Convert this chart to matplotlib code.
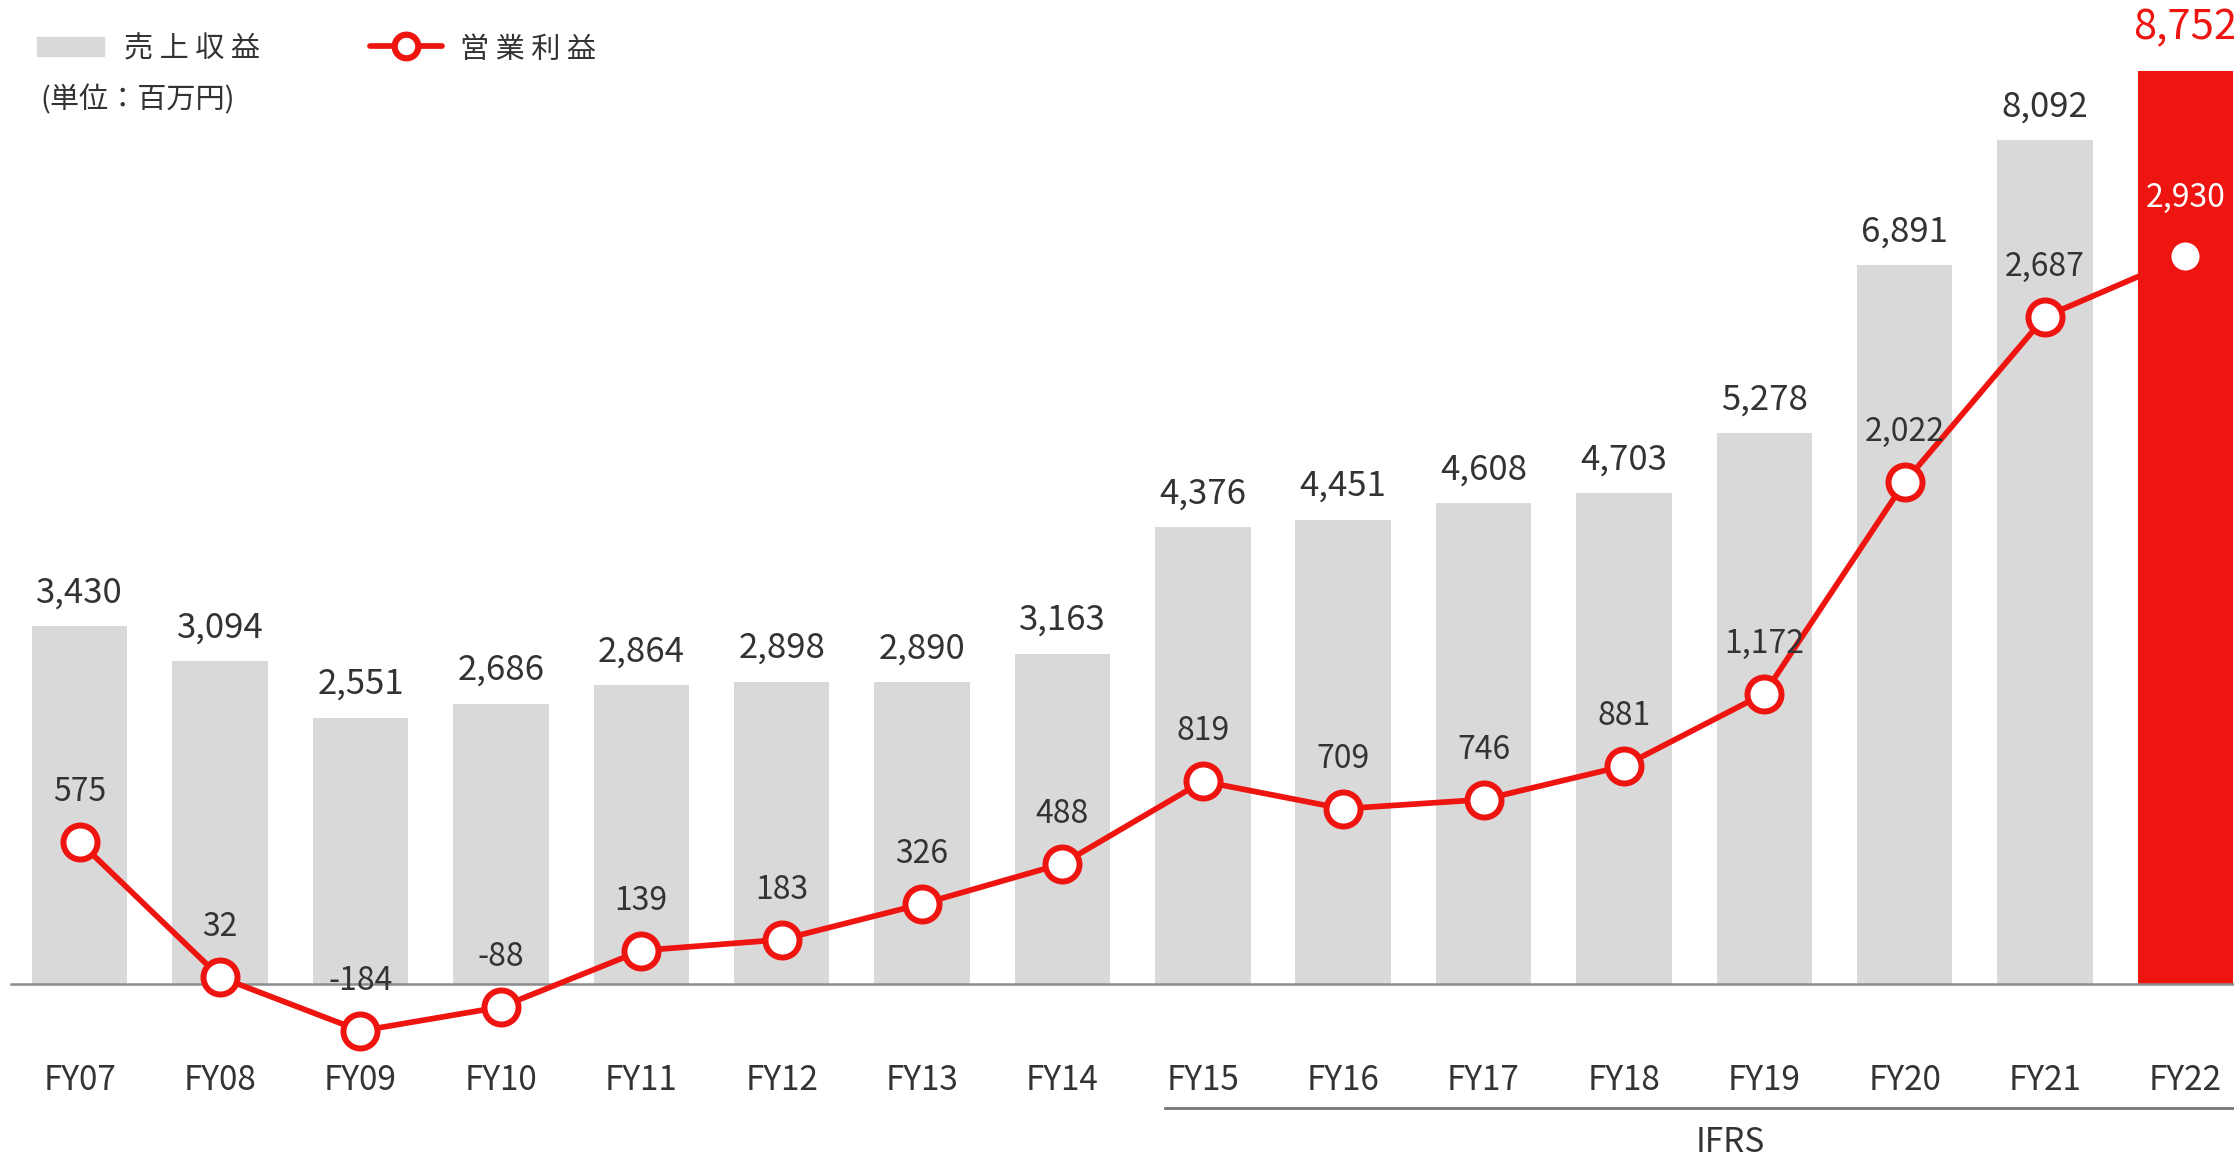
import matplotlib
matplotlib.use("Agg")
import matplotlib.pyplot as plt
from matplotlib.patches import Rectangle
from matplotlib.lines import Line2D

plt.rcParams['font.family'] = ['Noto Sans CJK JP', 'DejaVu Sans']

# data (百万円)
years = ['FY07', 'FY08', 'FY09', 'FY10', 'FY11', 'FY12', 'FY13', 'FY14',
         'FY15', 'FY16', 'FY17', 'FY18', 'FY19', 'FY20', 'FY21', 'FY22']
revenue = [3430, 3094, 2551, 2686, 2864, 2898, 2890, 3163,
           4376, 4451, 4608, 4703, 5278, 6891, 8092, 8752]
op_income = [575, 32, -184, -88, 139, 183, 326, 488,
             819, 709, 746, 881, 1172, 2022, 2687, 2930]
ifrs_from = 'FY15'

gray = '#d9d9d9'
red = '#ee1410'
text_col = '#333333'
x = list(range(len(years)))
last = len(years) - 1

fig = plt.figure(figsize=(22.34, 11.59), dpi=100)
ax = fig.add_axes([0, 0, 1, 1])
ax2 = ax.twinx()
for a in (ax, ax2):
    a.axis('off')

ax.set_xlim(-0.568, 15.346)
ax.set_ylim(-1682, 9435)
ax2.set_ylim(-699, 3960)

# bars
colors = [gray] * last + [red]
ax.bar(x, revenue, width=0.68, color=colors, zorder=1)
for i, v in enumerate(revenue):
    if i == last:
        ax.annotate(f'{v:,}', (i, v), xytext=(0, 31), textcoords='offset points',
                    ha='center', va='center', fontsize=30, color=red)
    else:
        ax.annotate(f'{v:,}', (i, v), xytext=(0, 24), textcoords='offset points',
                    ha='center', va='center', fontsize=25, color=text_col)

# baseline
ax.axhline(0, xmin=0.005, xmax=1, color='#8c8c8c', lw=1.8, zorder=2)

# operating income line
ax2.plot(x, op_income, color=red, lw=4.1, zorder=3,
         marker='o', markersize=24.5, markerfacecolor='white',
         markeredgecolor=red, markeredgewidth=4.3)
for i, v in enumerate(op_income):
    ax2.annotate(f'{v:,}', (i, v), xytext=(0, 42 if i == last else 36),
                 textcoords='offset points', ha='center', va='center',
                 fontsize=23, color='white' if i == last else text_col, zorder=5)

# x labels
for i, lab in enumerate(years):
    ax.text(i, -930, lab, ha='center', va='center', fontsize=24, color=text_col)

# IFRS bracket
i0 = years.index(ifrs_from)
ax.plot([i0 - 0.27, 15.346], [-1190, -1190], color='#777777', lw=2, clip_on=False)
ax.text(11.76, -1528, 'IFRS', ha='center', va='center', fontsize=24, color=text_col)

# legend
fig.patches.append(Rectangle((0.0166, 0.9517), 0.030, 0.0164, color=gray,
                             transform=fig.transFigure))
fig.text(0.0555, 0.957, '売 上 収 益', fontsize=21, color=text_col, va='center')
fig.lines.append(Line2D([0.1656, 0.1817, 0.1978], [0.960, 0.960, 0.960],
                        color=red, lw=4.1, solid_capstyle='round',
                        marker='o', markevery=[1], markersize=17,
                        markerfacecolor='white', markeredgecolor=red,
                        markeredgewidth=4.5, transform=fig.transFigure))
fig.text(0.206, 0.957, '営 業 利 益', fontsize=21, color=text_col, va='center')
fig.text(0.0179, 0.9137, '(単位：百万円)', fontsize=21, color=text_col, va='center')

fig.savefig('out.png', dpi=100)
